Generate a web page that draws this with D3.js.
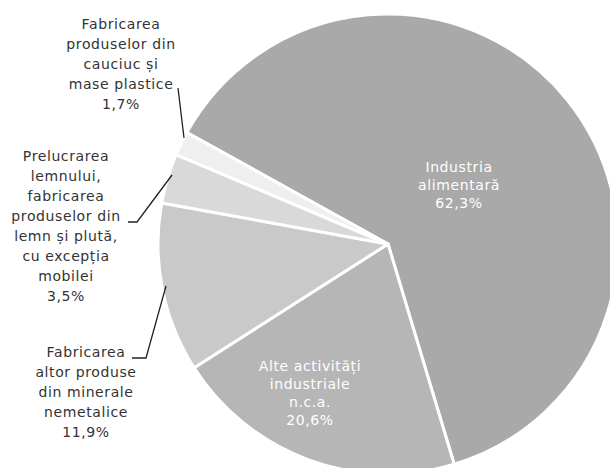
<!DOCTYPE html>
<html>
<head>
<meta charset="utf-8">
<script src="https://cdn.jsdelivr.net/npm/d3@7"></script>
<style>
  body { margin: 0; background: #fff; }
  text { font-family: "DejaVu Sans", sans-serif; font-size: 14px; letter-spacing: 0.6px; }
</style>
</head>
<body>
<div id="chart"></div>
<script>
/* DATA */
const categories = [
  "Industria alimentară",
  "Alte activități industriale n.c.a.",
  "Fabricarea altor produse din minerale nemetalice",
  "Prelucrarea lemnului, fabricarea produselor din lemn și plută, cu excepția mobilei",
  "Fabricarea produselor din cauciuc și mase plastice"
];
const shares = [62.3, 20.6, 11.9, 3.5, 1.7];
const valueLabels = ["62,3%", "20,6%", "11,9%", "3,5%", "1,7%"];
const labelLines = [
  ["Industria", "alimentară"],
  ["Alte activități", "industriale", "n.c.a."],
  ["Fabricarea", "altor produse", "din minerale", "nemetalice"],
  ["Prelucrarea", "lemnului,", "fabricarea", "produselor din", "lemn și plută,", "cu excepția", "mobilei"],
  ["Fabricarea", "produselor din", "cauciuc și", "mase plastice"]
];
const colors = ["#a9a9a9", "#b6b6b6", "#c9c9c9", "#d9d9d9", "#efefef"];

/* CONSTANTS */
const width = 610,
  height = 468,
  cx = 388,
  cy = 244,
  radius = 230,
  lineH = 20;

const svg = d3.select("#chart")
  .append("svg")
  .attr("width", width)
  .attr("height", height);

// pie starts at the Industria / cauciuc boundary (upper left), clockwise
const pie = d3.pie()
  .sort(null)
  .value(d => d)
  .startAngle(-61 * Math.PI / 180)
  .endAngle(-61 * Math.PI / 180 + 2 * Math.PI);

const arcs = pie(shares);
const arc = d3.arc().innerRadius(0).outerRadius(radius);

const g = svg.append("g").attr("transform", `translate(${cx},${cy})`);

g.selectAll("path.slice")
  .data(arcs)
  .join("path")
  .attr("class", "slice")
  .attr("d", arc)
  .attr("fill", (d, i) => colors[i])
  .attr("stroke", "#fff")
  .attr("stroke-width", 3)
  .attr("stroke-linejoin", "round");

// label positions: inside ones white, outside ones dark
const labelPos = [
  { x: 459, y: 167, fill: "#fff", step: 18 },
  { x: 310, y: 366, fill: "#fff", step: 18 },
  { x: 86, y: 352, fill: "#333", step: lineH },
  { x: 66, y: 156, fill: "#333", step: lineH },
  { x: 121, y: 24, fill: "#333", step: lineH }
];

const labels = svg.selectAll("text.lbl")
  .data(arcs)
  .join("text")
  .attr("class", "lbl")
  .attr("text-anchor", "middle")
  .attr("fill", (d, i) => labelPos[i].fill);

labels.selectAll("tspan")
  .data((d, i) => labelLines[i].concat([valueLabels[i]]).map(t => ({ t, i })))
  .join("tspan")
  .attr("x", d => labelPos[d.i].x)
  .attr("y", (d, j) => labelPos[d.i].y + j * labelPos[d.i].step)
  .attr("dy", "0.35em")
  .text(d => d.t);

// leader lines for the outside labels
const leaders = [
  { i: 4, pts: [[178, 88], [184, 138]] },
  { i: 3, pts: [[128, 222], [137, 222], [172, 175]] },
  { i: 2, pts: [[132, 358], [146, 358], [166, 286]] }
];

svg.selectAll("path.leader")
  .data(leaders)
  .join("path")
  .attr("class", "leader")
  .attr("d", d => d3.line()(d.pts))
  .attr("fill", "none")
  .attr("stroke", "#222")
  .attr("stroke-width", 1.3);
</script>
</body>
</html>
